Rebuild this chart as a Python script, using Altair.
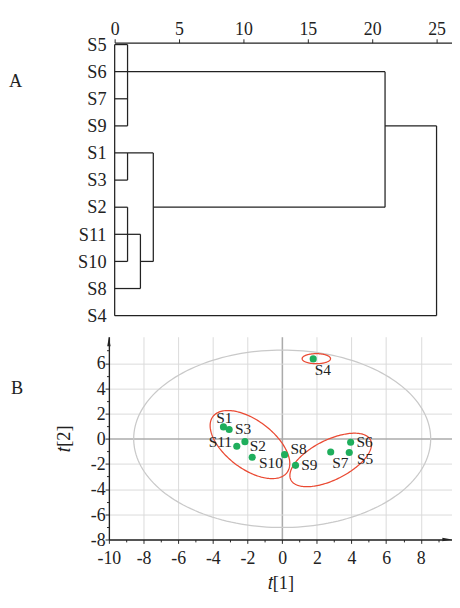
import altair as alt
import pandas as pd
import numpy as np

# ---------------- Panel A: dendrogram ----------------
leaves = ["S5", "S6", "S7", "S9", "S1", "S3", "S2", "S11", "S10", "S8", "S4"]
dist_ticks = [0, 5, 10, 15, 20, 25]
# horizontal segments: leaf row, distance from, distance to
h_rows = [0, 1, 2, 3, 3, 4, 5, 6, 6, 7, 8, 8, 9, 10]
h_from = [0, 0, 0, 0, 21, 0, 0, 0, 3, 0, 0, 2, 0, 0]
h_to = [1, 21, 1, 1, 25, 3, 1, 1, 21, 2, 1, 3, 2, 25]
# vertical segments: distance, leaf row from, leaf row to
v_dist = [0, 1, 1, 1, 2, 3, 21, 25]
v_from = [0, 0, 4, 6, 7, 4, 1, 3]
v_to = [10, 3, 5, 8, 9, 8, 6, 10]

# ---------------- Panel B: score plot ----------------
samples = ["S1", "S2", "S3", "S4", "S5", "S6", "S7", "S8", "S9", "S10", "S11"]
t1 = [-3.39, -2.15, -3.06, 1.79, 3.87, 3.95, 2.80, 0.14, 0.77, -1.73, -2.62]
t2 = [0.94, -0.23, 0.74, 6.34, -1.09, -0.28, -1.05, -1.26, -2.11, -1.47, -0.59]
placement = ["above", "rlow1", "right", "below", "rlow3", "right",
             "below", "rightup", "right", "rlow2", "left"]

# ellipses: center t1, center t2, semi-axis a, semi-axis b (t[1] units), angle (deg), kind
ell_cx = [0.0, 1.97, -1.86, 2.80]
ell_cy = [0.0, 6.36, -0.46, -1.68]
ell_a = [8.57, 0.82, 2.68, 2.57]
ell_b = [5.12, 0.29, 1.40, 1.15]
ell_ang = [0, 0, -37.1, 26.6]
ell_kind = ["hotelling", "group", "group", "group"]

x_dom = [-10, 9.8]
y_dom = [-8, 8.1]
x_vals = list(range(-10, 10))
y_vals = list(range(-8, 8))

WA, HA = 357, 286
WB, HB = 357, 211
ASPECT = (WB / (x_dom[1] - x_dom[0])) / (HB / (y_dom[1] - y_dom[0]))

SERIF = "Liberation Serif"
INK = "#222222"

# ----- build panel A -----
hdf = pd.DataFrame({"row": h_rows, "d1": h_from, "d2": h_to})
vdf = pd.DataFrame({"d": v_dist, "r1": v_from, "r2": v_to})

xA = alt.Scale(domain=[0, 26.2], range=[6, WA], nice=False, zero=False)
yA = alt.Scale(domain=[-0.07, 10.07], nice=False, zero=False, reverse=True)
label_arr = "[" + ",".join("'%s'" % s for s in leaves) + "]"

xA_axis = alt.Axis(orient="top", values=dist_ticks, title=None, grid=False,
                   domainColor=INK, domainWidth=1.3, tickColor=INK, tickSize=4,
                   labelFont=SERIF, labelFontSize=18.5, labelColor=INK, labelPadding=0,
                   labelOverlap=False, labelFlush=False)
yA_axis = alt.Axis(values=list(range(len(leaves))), labelExpr=label_arr + "[datum.value]",
                   title=None, grid=False, domain=False, ticks=False, labelOverlap=False,
                   labelFlush=False,
                   labelFont=SERIF, labelFontSize=19, labelColor=INK, labelPadding=3)

hA = alt.Chart(hdf).mark_rule(color=INK, strokeWidth=1.3).encode(
    x=alt.X("d1:Q", scale=xA, axis=xA_axis), x2="d2:Q",
    y=alt.Y("row:Q", scale=yA, axis=yA_axis))
vA = alt.Chart(vdf).mark_rule(color=INK, strokeWidth=1.3).encode(
    x=alt.X("d:Q", scale=xA, axis=xA_axis),
    y=alt.Y("r1:Q", scale=yA, axis=yA_axis), y2="r2:Q")

panelA = alt.layer(hA, vA).properties(
    width=WA, height=HA,
    title=alt.TitleParams("A", orient="left", angle=0, anchor="end", frame="group",
                          font=SERIF, fontSize=19, fontWeight="normal", color=INK,
                          offset=44, dy=40, baseline="middle"))

# ----- build panel B -----
pts = pd.DataFrame({"t1": t1, "t2": t2, "name": samples, "place": placement})

rows = []
tt = np.linspace(0, 2 * np.pi, 181)
for i in range(len(ell_cx)):
    th = np.radians(ell_ang[i])
    px = ell_a[i] * np.cos(tt) * np.cos(th) - ell_b[i] * np.sin(tt) * np.sin(th)
    py = ell_a[i] * np.cos(tt) * np.sin(th) + ell_b[i] * np.sin(tt) * np.cos(th)
    for k in range(len(tt)):
        rows.append({"id": i, "kind": ell_kind[i], "k": k,
                     "x": ell_cx[i] + px[k], "y": ell_cy[i] + py[k] * ASPECT})
edf = pd.DataFrame(rows)

xB = alt.Scale(domain=x_dom, nice=False, zero=False)
yB = alt.Scale(domain=y_dom, nice=False, zero=False)

def cond(test, a, b):
    return {"condition": {"test": test, "value": a}, "value": b}

common_axis = dict(
    grid=True,
    gridColor=cond("datum.value == 0", "#ababab", "#dadada"),
    gridWidth=cond("datum.value == 0", 1.6, 1),
    gridOpacity=cond("datum.value % 2 != 0", 0, 1),
    domainColor=INK, domainWidth=1.4, tickColor=INK,
    tickSize=cond("datum.value % 2 == 0", 4, 2.5),
    labelExpr="datum.value % 2 == 0 ? '' + datum.value : ''",
    labelOverlap=False, labelFlush=False,
    labelFont=SERIF, labelFontSize=18.5, labelColor=INK,
    titleFont=SERIF, titleFontSize=19, titleFontWeight="normal", titleColor=INK,
)
xB_axis = alt.Axis(values=x_vals, title="𝑡[1]", labelPadding=6, titlePadding=7, **common_axis)
yB_axis = alt.Axis(values=y_vals, title="𝑡[2]", labelPadding=0, titlePadding=18, **common_axis)

def bx(field):
    return alt.X(field, scale=xB, axis=xB_axis)

def by(field):
    return alt.Y(field, scale=yB, axis=yB_axis)

base_ell = alt.Chart(edf).mark_line(strokeWidth=1.3, clip=False).encode(
    x=bx("x:Q"), y=by("y:Q"),
    order="k:Q", detail="id:N",
    color=alt.Color("kind:N", scale=alt.Scale(domain=["hotelling", "group"],
                                              range=["#c9c9c9", "#ea4a33"]), legend=None))

points = alt.Chart(pts).mark_circle(size=55, opacity=1, color="#1fae5c").encode(
    x=bx("t1:Q"), y=by("t2:Q"))

label_styles = {
    "above": dict(align="center", dx=1, dy=-9),
    "right": dict(align="left", dx=6, dy=0),
    "left": dict(align="right", dx=-5, dy=-4),
    "rlow1": dict(align="left", dx=5, dy=5),
    "rlow2": dict(align="left", dx=7, dy=6),
    "rlow3": dict(align="left", dx=8, dy=7),
    "rightup": dict(align="left", dx=6, dy=-6),
    "below": dict(align="center", dx=10, dy=12),
}
label_layers = []
for key, st in label_styles.items():
    label_layers.append(
        alt.Chart(pts).transform_filter(alt.datum.place == key).mark_text(
            font=SERIF, fontSize=16, color=INK, baseline="middle", **st).encode(
            x=bx("t1:Q"), y=by("t2:Q"), text="name:N"))

arrows = pd.DataFrame({"x": [x_dom[0], x_dom[1]], "y": [y_dom[1], y_dom[0]],
                       "shape": ["M0,0L0.35,2L-0.35,2Z", "M0,0L-2,-0.35L-2,0.35Z"]})
arrow_layer = alt.Chart(arrows).mark_point(filled=True, size=100, opacity=1, color=INK,
                                           clip=False, strokeWidth=0).encode(
    x=bx("x:Q"), y=by("y:Q"), shape=alt.Shape("shape:N", scale=None))

panelB = alt.layer(base_ell, points, *label_layers, arrow_layer).properties(
    width=WB, height=HB,
    title=alt.TitleParams("B", orient="left", angle=0, anchor="end", frame="group",
                          font=SERIF, fontSize=19, fontWeight="normal", color=INK,
                          offset=20, dy=54, baseline="middle"))

chart = alt.vconcat(panelA, panelB, spacing=20, bounds="flush").properties(
    padding={"left": 0, "top": 1, "right": 0, "bottom": 0}
).configure(
    font=SERIF,
    view=alt.ViewConfig(stroke=None),
    axis=alt.AxisConfig(labelOverlap=False),
)

chart.save("out.html", embed_options={"renderer": "svg", "actions": False})
